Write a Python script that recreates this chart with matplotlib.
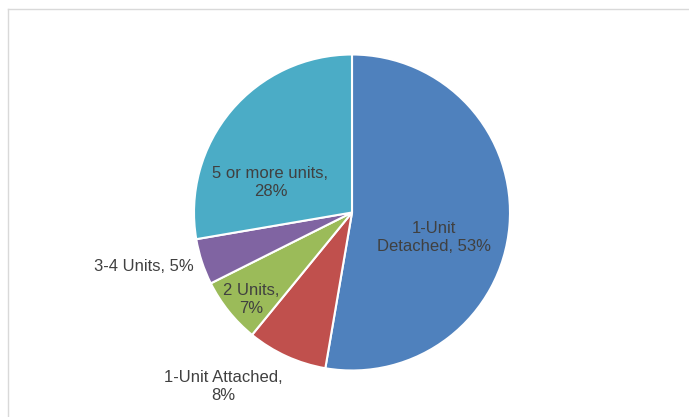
import matplotlib.pyplot as plt
from matplotlib.lines import Line2D
import numpy as np

# Housing units by type (share, %)
categories = ['1-Unit\nDetached', '1-Unit Attached', '2 Units', '3-4 Units', '5 or more units']
shares = [52.7, 8.2, 6.7, 4.7, 27.7]
colors = ['#4F81BD', '#C0504D', '#9BBB59', '#8064A2', '#4BACC6']

# label layout: (radius, angle offset in degrees, separator)
label_layout = [
    (0.54, -12.2, ', '),
    (1.37, -12, ',\n'),
    (0.84, 2, ',\n'),
    (1.36, -3.6, ', '),
    (0.55, 20, ',\n'),
]

plt.rcParams['font.family'] = ['Liberation Sans', 'DejaVu Sans']

W, H = 689, 417
fig = plt.figure(figsize=(W / 100, H / 100), dpi=100)
ax = fig.add_axes([0, 0, 1, 1])

cx, cy, r = 352, 212.5, 158
wedges, _ = ax.pie(shares, colors=colors, startangle=90, counterclock=False,
                   wedgeprops=dict(edgecolor='white', linewidth=1.5))
ax.set_aspect('auto')
ax.set_xlim(-cx / r, (W - cx) / r)
ax.set_ylim(-(H - cy) / r, cy / r)
ax.axis('off')

for w, cat, val, (dist, off, sep) in zip(wedges, categories, shares, label_layout):
    mid = np.deg2rad((w.theta1 + w.theta2) / 2 + off)
    ax.text(dist * np.cos(mid), dist * np.sin(mid), f'{cat}{sep}{round(val)}%',
            ha='center', va='center', fontsize=12, color='#404040',
            linespacing=1.25)

# chart area border (partially cut off)
fig.add_artist(Line2D([7.5 / W, 7.5 / W], [0, 1 - 8.5 / H], color='#d9d9d9', lw=1))
fig.add_artist(Line2D([7.5 / W, 1], [1 - 8.5 / H, 1 - 8.5 / H], color='#d9d9d9', lw=1))

fig.savefig('out.png', dpi=100, facecolor='white')
